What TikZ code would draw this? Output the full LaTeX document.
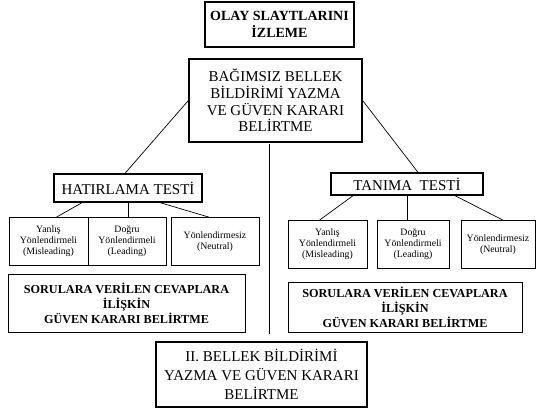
\documentclass[tikz,border=0pt]{standalone}
\usepackage{fontspec}
\setmainfont{Liberation Serif}
\usetikzlibrary{calc}

\begin{document}
\begin{tikzpicture}[x=1pt,y=-1pt,
  bigbox/.style={draw=black,line width=1.3pt,align=center,inner sep=0pt},
  subbox/.style={draw=black,line width=0.7pt,align=center,inner sep=0pt,
    minimum height=48pt,font=\fontsize{9.8}{11}\selectfont},
  soru/.style={draw=black,line width=1pt,align=center,inner sep=0pt,
    font=\fontsize{12.2}{15}\selectfont\bfseries},
  link/.style={line width=0.7pt}]

\useasboundingbox (0,0) rectangle (536,412);

\node [bigbox,minimum width=149pt,minimum height=45pt,
  font=\fontsize{14}{17}\selectfont\bfseries] (olay) at (279.5,24.5)
  {OLAY SLAYTLARINI\\İZLEME};

\node [bigbox,minimum width=173pt,minimum height=83pt,
  font=\fontsize{15}{16.7}\selectfont] (bagimsiz) at (275.5,100.5)
  {BAĞIMSIZ BELLEK\\BİLDİRİMİ YAZMA\\VE GÜVEN KARARI\\BELİRTME};

\node [bigbox,minimum width=148pt,minimum height=28pt,
  font=\fontsize{15}{17}\selectfont] (hatirlama) at (128,188) {HATIRLAMA TESTİ};
\node [bigbox,minimum width=152pt,minimum height=22pt,
  font=\fontsize{15}{17}\selectfont] (tanima) at (407,184) {TANIMA\ \ TESTİ};

\node [subbox,minimum width=79pt] (hyan)  at (48.5,241.5) {Yanlış\\Yönlendirmeli\\(Misleading)};
\node [subbox,minimum width=78pt] (hdog)  at (127,241.5)  {Doğru\\Yönlendirmeli\\(Leading)};
\node [subbox,minimum width=88pt] (hnotr) at (215,241.5)  {Yönlendirmesiz\\(Neutral)};

\node [subbox,minimum width=79pt] (tyan)  at (327.5,244.5) {Yanlış\\Yönlendirmeli\\(Misleading)};
\node [subbox,minimum width=72pt] (tdog)  at (413,244.5)   {Doğru\\Yönlendirmeli\\(Leading)};
\node [subbox,minimum width=74pt] (tnotr) at (498,244.5)   {Yönlendirmesiz\\(Neutral)};

\node [soru,minimum width=237pt,minimum height=58pt] (hsoru) at (126.5,303)
  {SORULARA VERİLEN CEVAPLARA\\İLİŞKİN\\GÜVEN KARARI BELİRTME};
\node [soru,minimum width=234pt,minimum height=50pt] (tsoru) at (405,307)
  {SORULARA VERİLEN CEVAPLARA\\İLİŞKİN\\GÜVEN KARARI BELİRTME};

\node [bigbox,line width=1.5pt,minimum width=211pt,minimum height=65pt,
  font=\fontsize{15}{19}\selectfont] (ikinci) at (261.5,374.5)
  {II. BELLEK BİLDİRİMİ\\YAZMA VE GÜVEN KARARI\\BELİRTME};

\coordinate (ayirUst) at (269,144);
\coordinate (ayirAlt) at (269,334);

\draw [link] (bagimsiz.west) to ($(hatirlama.north)+(-3,0)$);
\draw [link] (bagimsiz.east) to ($(tanima.north)+(11,0)$);

\draw [link] ($(hatirlama.south)+(-46,0)$) to ($(hyan.north)+(8,0)$);
\draw [link] (hatirlama.south) to (hatirlama.south |- hdog.north);
\draw [link] ($(hatirlama.south)+(32,0)$) to ($(hnotr.north)+(-6,0)$);

\draw [link] ($(tanima.south)+(-54,0)$) to ($(tyan.north)+(-8,0)$);
\draw [link] (tanima.south) to (tanima.south |- tdog.north);
\draw [link] ($(tanima.south)+(48,0)$) to ($(tnotr.north)+(5,0)$);

\draw [link] (ayirUst) to (ayirAlt);

\end{tikzpicture}
\end{document}
